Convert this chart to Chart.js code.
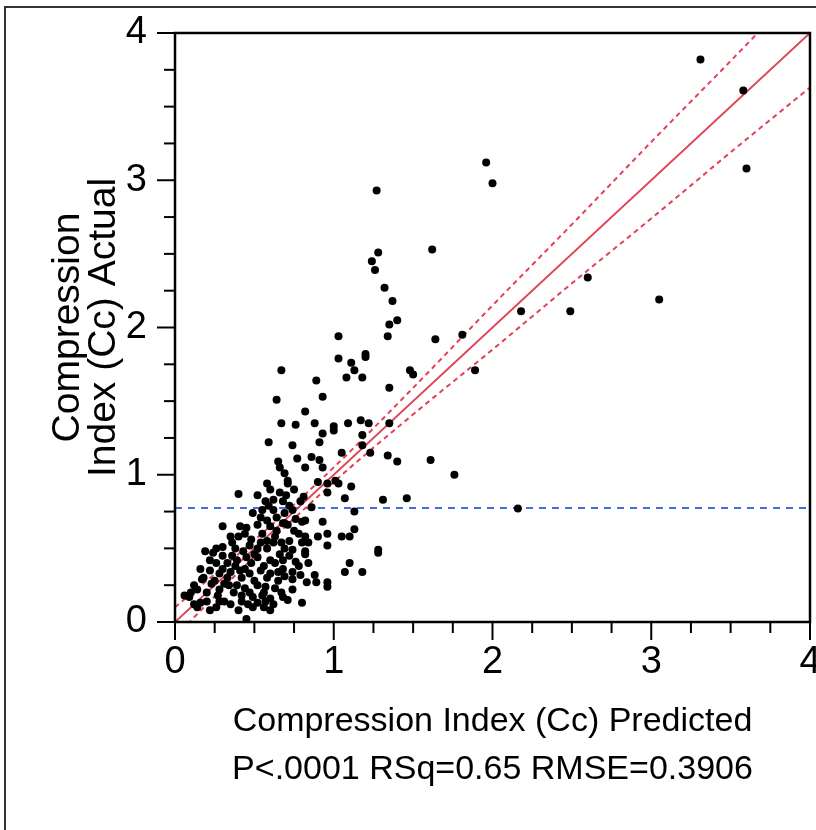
<!DOCTYPE html>
<html>
<head>
<meta charset="utf-8">
<script src="https://cdn.jsdelivr.net/npm/chart.js@4.4.1/dist/chart.umd.min.js"></script>
<style>
  html, body { margin: 0; padding: 0; background: #fff; }
  canvas { display: block; }
</style>
</head>
<body>
<canvas id="cc_plot" width="816" height="830"></canvas>
<script>
// Compression index: predicted (x) vs actual (y)
const predicted = [
  3.31, 3.58, 3.60, 1.96, 2.00, 1.62, 2.60, 3.05, 2.18, 2.49,
  1.81, 1.64, 1.27, 2.16, 1.89, 1.76, 1.61, 1.46, 1.48, 1.50,
  1.35, 1.34, 1.35, 1.40, 1.37, 1.32, 1.26, 1.24, 1.28, 1.03,
  1.03, 1.20, 1.20, 1.11, 1.13, 1.08, 1.18, 0.67, 0.89, 0.93,
  0.64, 0.82, 0.67, 0.76, 0.88, 1.00, 1.09, 1.17, 1.22, 1.35,
  0.59, 0.74, 0.91, 0.93, 1.00, 0.77, 0.86, 0.91, 0.93, 0.82,
  1.05, 1.18, 1.18, 1.23, 1.34, 1.40, 0.69, 0.71, 0.90, 0.96,
  1.01, 1.03, 1.11, 0.96, 1.07, 1.31, 0.81, 0.79, 0.74, 0.69,
  1.13, 0.82, 0.80, 0.93, 0.69, 0.82, 0.84, 0.80, 0.96, 0.96,
  1.05, 1.10, 1.13, 0.74, 0.82, 0.82, 1.28, 1.28, 0.69, 0.76,
  1.10, 1.07, 1.18, 0.79, 0.74, 0.83, 0.88, 0.89, 0.96, 0.96,
  0.74, 0.71, 0.80, 0.45, 0.58, 0.65, 0.66, 0.71, 0.40, 0.52,
  0.57, 0.59, 0.62, 0.68, 0.72, 0.49, 0.54, 0.58, 0.64, 0.68,
  0.30, 0.41, 0.52, 0.60, 0.71, 0.19, 0.24, 0.30, 0.36, 0.40,
  0.44, 0.47, 0.54, 0.58, 0.62, 0.67, 0.68, 0.60, 0.52, 0.45,
  0.39, 0.33, 0.26, 0.22, 0.28, 0.35, 0.41, 0.47, 0.54, 0.60,
  0.65, 0.69, 0.17, 0.23, 0.31, 0.39, 0.44, 0.52, 0.57, 0.63,
  0.67, 0.14, 0.20, 0.27, 0.37, 0.42, 0.49, 0.55, 0.60, 0.09,
  0.16, 0.28, 0.42, 0.52, 0.57, 0.06, 0.14, 0.26, 0.31, 0.49,
  0.60, 0.22, 0.68, 0.12, 0.18, 0.25, 0.33, 0.36, 0.43, 0.48,
  0.50, 0.56, 0.63, 0.66, 0.72, 0.75, 0.63, 0.55, 0.48, 0.38,
  0.30, 0.22, 0.35, 0.45, 0.55, 0.62, 0.66, 0.70, 0.64, 0.76,
  0.78, 0.72, 0.78, 0.84, 0.65, 0.58, 0.50, 0.42, 0.34, 0.28,
  0.20, 0.35, 0.40, 0.56, 0.62, 0.47, 0.38, 0.44, 0.30, 0.26,
  0.16, 0.10, 0.12, 0.58, 0.52, 0.75, 0.60, 0.86, 0.90, 0.56,
  0.68, 0.74, 0.46
];
const actual = [
  3.82, 3.61, 3.08, 3.12, 2.98, 2.53, 2.34, 2.19, 2.11, 2.11,
  1.95, 1.92, 2.93, 0.77, 1.71, 1.00, 1.10, 0.84, 1.71, 1.68,
  1.59, 1.94, 2.02, 2.05, 2.18, 2.27, 2.39, 2.45, 2.51, 1.94,
  1.79, 1.82, 1.80, 1.76, 1.71, 1.66, 1.66, 1.71, 1.64, 1.53,
  1.51, 1.43, 1.35, 1.34, 1.35, 1.33, 1.35, 1.37, 1.35, 1.35,
  1.22, 1.20, 1.22, 1.28, 1.30, 1.11, 1.12, 1.10, 1.05, 1.05,
  1.15, 1.27, 1.20, 1.15, 1.13, 1.09, 1.01, 0.94, 0.95, 0.94,
  0.96, 0.94, 0.92, 0.88, 0.84, 0.83, 0.85, 0.82, 0.76, 0.74,
  0.75, 0.69, 0.68, 0.68, 0.67, 0.58, 0.54, 0.54, 0.60, 0.52,
  0.58, 0.58, 0.63, 0.49, 0.48, 0.46, 0.49, 0.47, 0.50, 0.41,
  0.40, 0.34, 0.34, 0.32, 0.29, 0.27, 0.32, 0.27, 0.27, 0.24,
  0.22, 0.15, 0.13, 0.02, 0.94, 1.09, 1.05, 0.96, 0.87, 0.86,
  0.82, 0.79, 0.83, 0.82, 0.79, 0.74, 0.71, 0.69, 0.71, 0.67,
  0.65, 0.65, 0.66, 0.65, 0.66, 0.48, 0.47, 0.51, 0.54, 0.58,
  0.60, 0.52, 0.54, 0.50, 0.54, 0.54, 0.42, 0.42, 0.44, 0.44,
  0.42, 0.40, 0.40, 0.35, 0.33, 0.34, 0.35, 0.33, 0.35, 0.33,
  0.34, 0.31, 0.29, 0.26, 0.26, 0.25, 0.23, 0.25, 0.24, 0.23,
  0.20, 0.22, 0.20, 0.18, 0.20, 0.18, 0.17, 0.18, 0.16, 0.17,
  0.13, 0.14, 0.14, 0.13, 0.14, 0.18, 0.10, 0.10, 0.14, 0.10,
  0.08, 0.08, 0.17, 0.25, 0.30, 0.28, 0.30, 0.45, 0.48, 0.40,
  0.46, 0.38, 0.40, 0.46, 0.55, 0.62, 0.58, 0.60, 0.56, 0.50,
  0.45, 0.42, 0.58, 0.64, 0.76, 0.76, 0.88, 0.86, 0.62, 0.70,
  0.60, 0.45, 0.38, 0.40, 0.28, 0.30, 0.28, 0.30, 0.25, 0.22,
  0.14, 0.12, 0.08, 0.10, 0.12, 0.20, 0.38, 0.36, 0.36, 0.50,
  0.36, 0.20, 0.12, 0.55, 0.50, 0.90, 0.90, 0.78, 0.58, 0.20,
  0.36, 0.34, 0.12
];

// confidence curves around the fit line, read at these x positions
const bandX = [0, 0.5, 1, 1.5, 2, 2.5, 3, 3.5, 4];
const bandUpper = [0.10, 0.555, 1.05, 1.59, 2.15, 2.70, 3.26, 3.81, 4.37];
const bandLower = [-0.10, 0.445, 0.95, 1.41, 1.85, 2.30, 2.74, 3.19, 3.63];
const fitLine = [0, 4];
const meanActual = 0.775;

const xTitle = ['Compression Index (Cc) Predicted', 'P<.0001 RSq=0.65 RMSE=0.3906'];
const yTitle = ['Compression', 'Index (Cc) Actual'];

const fontFamily = 'Arial, "Liberation Sans", Helvetica, sans-serif';
const red = 'rgb(226, 66, 86)';
const blue = 'rgb(62, 112, 226)';

const points = predicted.map((x, i) => ({ x: x, y: actual[i] }));
const upper = bandX.map((x, i) => ({ x: x, y: bandUpper[i] }));
const lower = bandX.map((x, i) => ({ x: x, y: bandLower[i] }));

const frameAndTicks = {
  id: 'frameAndTicks',
  afterDraw(chart) {
    const ctx = chart.ctx;
    const a = chart.chartArea;
    const xs = chart.scales.x;
    const ys = chart.scales.y;
    ctx.save();
    // outer picture frame
    ctx.strokeStyle = '#333';
    ctx.lineWidth = 2;
    ctx.strokeRect(5, 7, chart.width + 20, chart.height + 20);
    // plot box
    ctx.strokeStyle = '#000';
    ctx.lineWidth = 2.5;
    ctx.strokeRect(a.left, a.top, a.right - a.left, a.bottom - a.top);
    // outside tick marks, long at whole numbers
    ctx.lineWidth = 2;
    xs.ticks.forEach(t => {
      const px = xs.getPixelForValue(t.value);
      const len = Number.isInteger(t.value) ? 18 : 11;
      ctx.beginPath();
      ctx.moveTo(px, a.bottom);
      ctx.lineTo(px, a.bottom + len);
      ctx.stroke();
    });
    ys.ticks.forEach(t => {
      const py = ys.getPixelForValue(t.value);
      const len = Number.isInteger(t.value) ? 18 : 11;
      ctx.beginPath();
      ctx.moveTo(a.left, py);
      ctx.lineTo(a.left - len, py);
      ctx.stroke();
    });
    ctx.restore();
  }
};

const ctx = document.getElementById('cc_plot').getContext('2d');
new Chart(ctx, {
  type: 'scatter',
  data: {
    datasets: [
      {
        data: points,
        backgroundColor: '#000',
        borderWidth: 0,
        pointRadius: 4,
        order: 0
      },
      {
        data: fitLine.map(v => ({ x: v, y: v })),
        showLine: true,
        borderColor: red,
        borderWidth: 2,
        pointRadius: 0,
        order: 1
      },
      {
        data: upper,
        showLine: true,
        borderColor: red,
        borderWidth: 2,
        borderDash: [5, 4],
        cubicInterpolationMode: 'monotone',
        pointRadius: 0,
        order: 1
      },
      {
        data: lower,
        showLine: true,
        borderColor: red,
        borderWidth: 2,
        borderDash: [5, 4],
        cubicInterpolationMode: 'monotone',
        pointRadius: 0,
        order: 1
      },
      {
        data: [{ x: 0, y: meanActual }, { x: 4, y: meanActual }],
        showLine: true,
        borderColor: blue,
        borderWidth: 2,
        borderDash: [7, 6],
        pointRadius: 0,
        order: 1
      }
    ]
  },
  options: {
    responsive: false,
    animation: false,
    layout: { padding: { top: 33, right: 6, left: 0, bottom: 0 } },
    plugins: {
      legend: { display: false },
      tooltip: { enabled: false }
    },
    scales: {
      x: {
        type: 'linear',
        min: 0,
        max: 4,
        border: { display: false },
        grid: { drawOnChartArea: false, tickLength: 18, tickColor: 'rgba(0,0,0,0)' },
        ticks: {
          stepSize: 0.25,
          autoSkip: false,
          maxRotation: 0,
          padding: 0,
          color: '#000',
          font: { family: fontFamily, size: 38 },
          callback: v => Number.isInteger(v) ? v : ''
        },
        title: {
          display: true,
          text: xTitle,
          color: '#000',
          font: { family: fontFamily, size: 34, lineHeight: 1.4 },
          padding: { top: 0, bottom: 37 }
        },
        afterFit: s => { s.height = 208; s.paddingLeft = 0; s.paddingRight = 0; }
      },
      y: {
        type: 'linear',
        min: 0,
        max: 4,
        border: { display: false },
        grid: { drawOnChartArea: false, tickLength: 18, tickColor: 'rgba(0,0,0,0)' },
        ticks: {
          stepSize: 0.25,
          autoSkip: false,
          padding: 10,
          color: '#000',
          font: { family: fontFamily, size: 38 },
          callback: v => Number.isInteger(v) ? v : ''
        },
        title: {
          display: true,
          text: yTitle,
          color: '#000',
          font: { family: fontFamily, size: 39, lineHeight: 0.92 },
          padding: { top: 50, bottom: 0 }
        },
        afterFit: s => { s.width = 175; s.paddingTop = 0; s.paddingBottom = 0; }
      }
    }
  },
  plugins: [frameAndTicks]
});
</script>
</body>
</html>
